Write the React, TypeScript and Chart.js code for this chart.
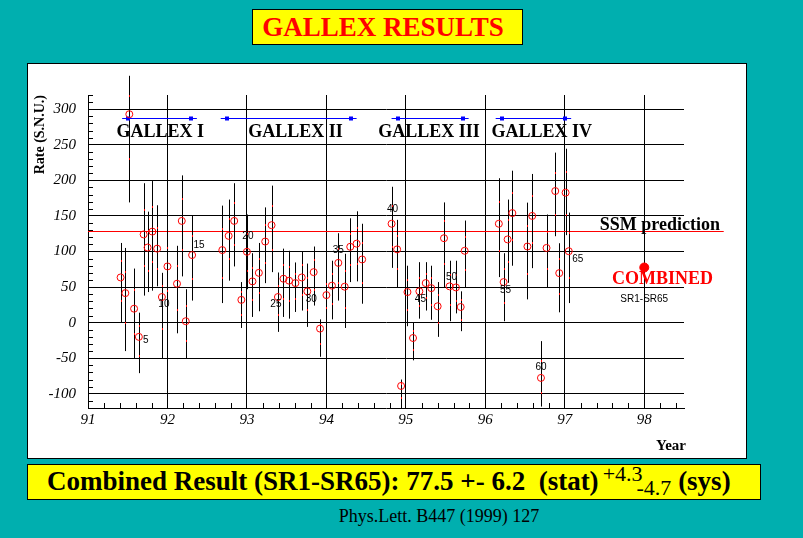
import React, { useEffect, useRef } from "react";
import { Chart, registerables } from "chart.js";

Chart.register(...registerables);

// ---- data ----
const runYears = [
  91.41, 91.47, 91.52, 91.58, 91.64, 91.7, 91.75, 91.81, 91.87, 91.93, 92.0, 92.12, 92.18, 92.23, 92.31,
  92.69, 92.77, 92.84, 92.93, 93.0, 93.07, 93.15, 93.23, 93.31, 93.39, 93.46, 93.53, 93.61, 93.69, 93.76,
  93.84, 93.92, 94.0, 94.07, 94.15, 94.23, 94.3, 94.38, 94.45,
  94.82, 94.89, 94.94, 95.02, 95.09, 95.17, 95.25, 95.32, 95.4, 95.48, 95.55, 95.63, 95.69, 95.74,
  96.17, 96.23, 96.28, 96.34, 96.53, 96.59, 96.7, 96.77, 96.88, 96.93, 97.01, 97.05,
];
const runRates = [
  63.5, 41.5, 293, 19.6, -20, 124, 105.6, 128, 104, 36, 79, 54.7, 143, 2, 95,
  102, 122, 143, 32, 99.6, 58, 70, 114, 137, 36, 61.7, 59, 55.6, 63.5, 44,
  71, -8.4, 38.7, 52, 84, 50.5, 106.6, 111, 88.8,
  139, 103, -89, 43, -21.6, 44, 55.6, 48.5, 23, 118.7, 51, 49.5, 22, 101,
  139, 57, 117, 154, 107, 150, -77.7, 105, 185, 69.6, 182.7, 100.4,
];
const runUpper = [
  112, 105, 347, 76, 14, 196, 156, 199, 165, 70, 133, 108, 207, 47, 150,
  164.5, 173, 196, 57, 152, 97.6, 112, 162, 192.6, 70.5, 104, 101, 84.6, 100, 83,
  107, 4.6, 72, 87, 125.7, 96.8, 146.7, 156.5, 139,
  191, 144.5, -80, 80, -0.5, 85, 85, 80, 57, 169, 87, 87, 44, 143.5,
  203, 97.6, 173, 213.6, 168.7, 209, -26, 152, 239, 111.6, 244.5, 154.7,
];
const runLower = [
  0, -40, 169, -50, -71, 38, 43, 45, 51, -50, 13, -15, 65, -50, 31,
  27.5, 59, 79, -7.5, 47, 8, 16, 55.5, 71, -13, 8, 5.6, 15, 17, -6,
  24, -48, 5, 4.6, 31, -7.5, 57, 58, 26.6,
  77, 50, -120, -5, -53, 5.6, 17, 4, -20, 50, 2, 13, -12, 50,
  64, 2, 56, 80, 32.7, 76.6, -118, 49, 121.5, 14.5, 123, 27.5,
];
const labelledRuns = [5, 10, 15, 20, 25, 30, 35, 40, 45, 50, 55, 60, 65];
const labelOffsetX = [7, 2, 7, 1, -2, 4, 0, 1, 1, 2, 2, 0, 9];
const labelOffsetY = [3, 7, -10, -16, 7, 8, -13, -15, 8, -9, 8, -11, 8];

const periodNames = ["GALLEX I", "GALLEX II", "GALLEX III", "GALLEX IV"];
const periodStart = [91.43, 92.67, 94.82, 96.13];
const periodEnd = [92.37, 94.38, 95.79, 97.08];
const periodLineRate = 287;
const periodLabelYear = [91.91, 93.61, 95.29, 96.71];
const periodLabelRate = 261;

const ssmRate = 129;
const ssmLineEndYear = 99;
const ssmLabelYear = 97.44;
const combinedYear = 98;
const combinedRate = 77.5;
const combinedLabelYear = 98.23;
const combinedLabelRate = 54;
const combinedSubLabelRate = 33;

const yTicks = [-100, -50, 0, 50, 100, 150, 200, 250, 300];
const xTicks = [91, 92, 93, 94, 95, 96, 97, 98];
const yMin = -120;
const yMax = 320;
const xMin = 91;
const xMax = 98.5;

const SERIF = '"Liberation Serif", "Times New Roman", serif';
const SANS = '"Liberation Sans", Arial, sans-serif';

const decorPlugin = {
  id: "decor",
  beforeDatasetsDraw(chart: any) {
    const { ctx, chartArea, scales } = chart;
    const xs = scales.x;
    const ys = scales.y;
    ctx.save();
    // minor ticks
    ctx.strokeStyle = "#000";
    ctx.lineWidth = 1;
    ctx.beginPath();
    for (let v = yMin; v <= yMax + 0.001; v += 10) {
      if (Math.abs(v % 50) < 0.001) continue;
      const y = Math.round(ys.getPixelForValue(v)) + 0.5;
      ctx.moveTo(chartArea.left, y);
      ctx.lineTo(chartArea.left + 5, y);
    }
    for (let k = 1; k < 38; k++) {
      const v = xMin + k * 0.2;
      if (Math.abs(v - Math.round(v)) < 0.001) continue;
      const x = Math.round(xs.getPixelForValue(v)) + 0.5;
      ctx.moveTo(x, chartArea.bottom);
      ctx.lineTo(x, chartArea.bottom - 5);
    }
    ctx.stroke();

    // SSM line
    ctx.strokeStyle = "#ff0000";
    ctx.beginPath();
    const ySsm = Math.round(ys.getPixelForValue(ssmRate)) + 0.5;
    ctx.moveTo(chartArea.left, ySsm);
    ctx.lineTo(xs.getPixelForValue(ssmLineEndYear), ySsm);
    ctx.stroke();

    // error bars
    ctx.strokeStyle = "#000";
    ctx.beginPath();
    runYears.forEach((yr, i) => {
      const x = Math.round(xs.getPixelForValue(yr)) + 0.5;
      ctx.moveTo(x, ys.getPixelForValue(runUpper[i]));
      ctx.lineTo(x, ys.getPixelForValue(runLower[i]));
    });
    ctx.stroke();
    ctx.fillStyle = "#ff0000";
    runYears.forEach((yr, i) => {
      const x = Math.round(xs.getPixelForValue(yr));
      const a = ys.getPixelForValue((runUpper[i] + runRates[i]) / 2);
      const b = ys.getPixelForValue((runLower[i] + runRates[i]) / 2);
      ctx.fillRect(x, Math.round(a), 1, 2);
      ctx.fillRect(x, Math.round(b), 1, 2);
    });

    // period lines
    ctx.strokeStyle = "#0000ff";
    ctx.fillStyle = "#0000ff";
    const yp = Math.round(ys.getPixelForValue(periodLineRate)) + 0.5;
    periodStart.forEach((s, i) => {
      const x1 = xs.getPixelForValue(s);
      const x2 = xs.getPixelForValue(periodEnd[i]);
      ctx.beginPath();
      ctx.moveTo(x1, yp);
      ctx.lineTo(x2, yp);
      ctx.stroke();
      ctx.fillRect(Math.round(x1 + 4), yp - 2, 4, 4);
      ctx.fillRect(Math.round(x2 - 8), yp - 2, 4, 4);
    });
    ctx.restore();
  },
  afterDatasetsDraw(chart: any) {
    const { ctx, chartArea, scales } = chart;
    const xs = scales.x;
    const ys = scales.y;
    ctx.save();
    // period labels
    ctx.fillStyle = "#000";
    ctx.font = `bold 18px ${SERIF}`;
    ctx.textAlign = "center";
    ctx.textBaseline = "alphabetic";
    periodNames.forEach((n, i) => {
      ctx.fillText(n, xs.getPixelForValue(periodLabelYear[i]), ys.getPixelForValue(periodLabelRate));
    });
    // SSM label
    ctx.textAlign = "left";
    ctx.fillText("SSM prediction", xs.getPixelForValue(ssmLabelYear), ys.getPixelForValue(ssmRate) - 1);
    // combined
    ctx.fillStyle = "#ff0000";
    ctx.textAlign = "center";
    ctx.fillText("COMBINED", xs.getPixelForValue(combinedLabelYear), ys.getPixelForValue(combinedLabelRate));
    ctx.fillStyle = "#000";
    ctx.font = `10px ${SANS}`;
    ctx.textBaseline = "middle";
    ctx.fillText("SR1-SR65", xs.getPixelForValue(combinedYear), ys.getPixelForValue(combinedSubLabelRate));
    // run labels
    labelledRuns.forEach((r, i) => {
      const x = xs.getPixelForValue(runYears[r - 1]) + labelOffsetX[i];
      const y = ys.getPixelForValue(runRates[r - 1]) + labelOffsetY[i];
      ctx.fillText(String(r), x, y);
    });
    // axis titles
    ctx.font = `bold 15px ${SERIF}`;
    ctx.textAlign = "right";
    ctx.fillText("Year", chartArea.right + 2, chartArea.bottom + 38);
    ctx.translate(12, chartArea.top);
    ctx.rotate(-Math.PI / 2);
    ctx.font = `bold 14px ${SERIF}`;
    ctx.fillText("Rate (S.N.U.)", 0, 0);
    ctx.restore();
  },
};

function GallexChart() {
  const ref = useRef<HTMLCanvasElement | null>(null);
  useEffect(() => {
    if (!ref.current) return;
    const chart = new Chart(ref.current, {
      type: "scatter",
      data: {
        datasets: [
          {
            data: runYears.map((x, i) => ({ x, y: runRates[i] })),
            pointRadius: 3.5,
            pointHoverRadius: 3.5,
            pointBorderColor: "#ff0000",
            pointBackgroundColor: "rgba(0,0,0,0)",
            pointBorderWidth: 1,
          },
          {
            data: [{ x: combinedYear, y: combinedRate }],
            pointRadius: 4.5,
            pointHoverRadius: 4.5,
            pointBorderColor: "#ff0000",
            pointBackgroundColor: "#ff0000",
          },
        ],
      },
      options: {
        responsive: false,
        animation: false,
        events: [],
        layout: { padding: { top: 31, right: 62, left: 0, bottom: 0 } },
        plugins: { legend: { display: false }, tooltip: { enabled: false } },
        scales: {
          x: {
            type: "linear",
            min: xMin,
            max: xMax,
            afterBuildTicks: (s: any) => {
              s.ticks = xTicks.map((v) => ({ value: v }));
            },
            afterFit: (s: any) => {
              s.height = 50;
            },
            grid: { color: "#000", lineWidth: 1, drawTicks: false },
            border: { color: "#000", width: 1 },
            ticks: {
              color: "#000",
              font: { family: SERIF, style: "italic", size: 15 },
              padding: 3,
              maxRotation: 0,
              autoSkip: false,
              callback: (v: any) => String(v),
            },
          },
          y: {
            type: "linear",
            min: yMin,
            max: yMax,
            afterBuildTicks: (s: any) => {
              s.ticks = yTicks.map((v) => ({ value: v }));
            },
            afterFit: (s: any) => {
              s.width = 60;
            },
            grid: { color: "#000", lineWidth: 1, drawTicks: false },
            border: { color: "#000", width: 1 },
            ticks: {
              color: "#000",
              font: { family: SERIF, style: "italic", size: 15 },
              padding: 12,
              autoSkip: false,
              callback: (v: any) => String(v),
            },
          },
        },
      },
      plugins: [decorPlugin],
    } as any);
    return () => chart.destroy();
  }, []);
  return <canvas ref={ref} width={718} height={394} style={{ display: "block" }} />;
}

export default function App() {
  useEffect(() => {
    document.body.style.margin = "0";
    document.body.style.overflow = "hidden";
  }, []);
  const teal = "#00AFAF";
  return (
    <div
      style={{
        position: "relative",
        width: 803,
        height: 538,
        background: teal,
        overflow: "hidden",
        fontFamily: SERIF,
      }}
    >
      <div
        style={{
          position: "absolute",
          left: 252,
          top: 9,
          width: 271,
          height: 36,
          boxSizing: "border-box",
          background: "#ffff00",
          border: "1px solid #000",
          color: "#ff0000",
          fontWeight: "bold",
          fontSize: 27,
          lineHeight: "34px",
          textAlign: "center",
          paddingRight: 9,
        }}
      >
        GALLEX RESULTS
      </div>
      <div
        style={{
          position: "absolute",
          left: 27,
          top: 63,
          width: 720,
          height: 396,
          boxSizing: "border-box",
          background: "#fff",
          border: "1px solid #000",
        }}
      >
        <GallexChart />
      </div>
      <div
        style={{
          position: "absolute",
          left: 27,
          top: 464,
          width: 734,
          height: 36,
          boxSizing: "border-box",
          background: "#ffff00",
          border: "1px solid #000",
        }}
      >
        <div
          style={{
            position: "absolute",
            left: 19,
            top: 3,
            whiteSpace: "pre",
            fontWeight: "bold",
            fontSize: 27,
            lineHeight: "27px",
            color: "#000",
          }}
        >
          <span>Combined Result (SR1-SR65): 77.5 +- 6.2  (stat)</span>
          <span style={{ fontWeight: "normal", fontSize: 22, position: "relative", top: -9, marginLeft: 4 }}>+4.3</span>
          <span style={{ fontWeight: "normal", fontSize: 22, position: "relative", top: 5, marginLeft: -6 }}>-4.7</span>
          <span> (sys)</span>
        </div>
      </div>
      <div
        style={{
          position: "absolute",
          left: 0,
          width: 878,
          top: 506,
          textAlign: "center",
          fontSize: 18,
          color: "#000",
          whiteSpace: "pre",
        }}
      >
        Phys.Lett. B447 (1999) 127
      </div>
    </div>
  );
}
